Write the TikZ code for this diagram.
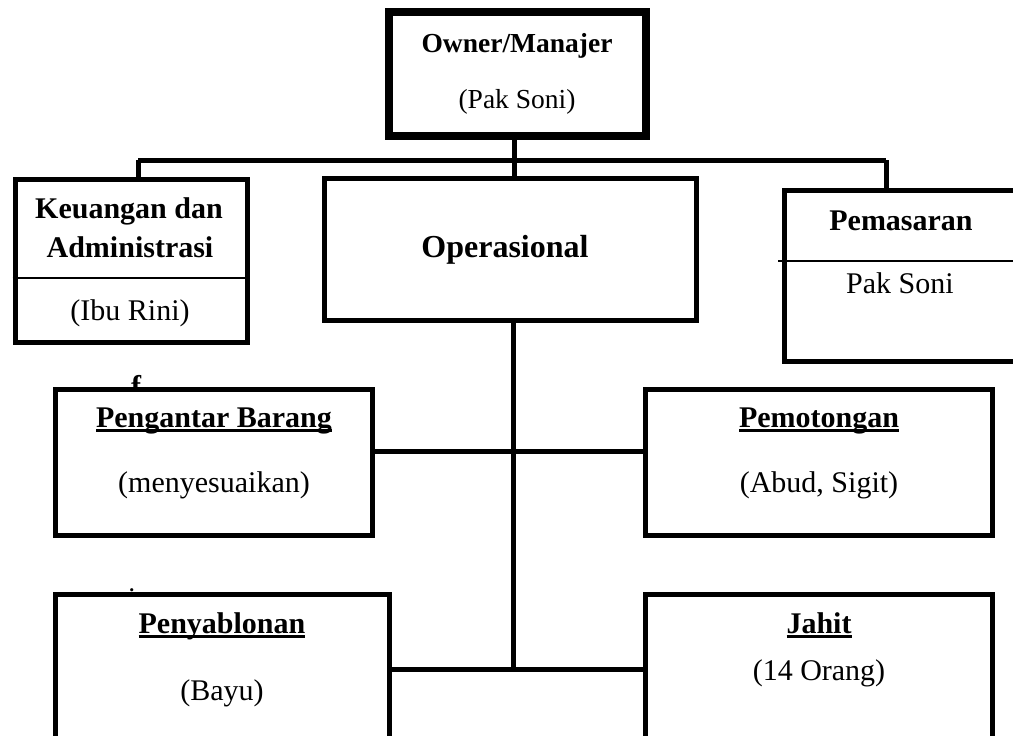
\documentclass[tikz,border=0pt]{standalone}
\usepackage{fontspec}
\setmainfont{Liberation Serif}
\newcommand\ulx[1]{\setbox0\hbox{#1}\dp0=0pt\leavevmode\vtop{\box0\kern1.8pt\hrule height 3.2pt}}
\tikzset{
  box/.style={draw, line width=5pt, fill=white, rectangle, inner sep=0pt},
  conn/.style={line width=5pt},
  thinline/.style={line width=1.5pt},
  ttl/.style={font=\bfseries\fontsize{30}{36}\selectfont, anchor=base, inner sep=0pt},
  txt/.style={font=\fontsize{30}{36}\selectfont, anchor=base, inner sep=0pt},
}
\begin{document}
\begin{tikzpicture}[x=1pt,y=-1pt]
\useasboundingbox (0,0) rectangle (1013,736);
\clip (0,0) rectangle (1013,736);
% stray letters partly hidden behind boxes
\node[ttl] (strayf) at (136,396) {f};
\node[txt] (strayi) at (132,608) {i};
% boxes
\node[box, line width=8pt, minimum width=257pt, minimum height=124pt] (owner) at (517.5,74) {};
\node[box, minimum width=232pt, minimum height=163pt] (keu) at (131,260.5) {};
\node[box, minimum width=372pt, minimum height=142pt] (ops) at (510,249) {};
\node[box, minimum width=300pt, minimum height=171pt] (pem) at (934,275.5) {};
\node[box, minimum width=317pt, minimum height=146pt] (peng) at (213.5,462) {};
\node[box, minimum width=347pt, minimum height=146pt] (potong) at (818.5,462) {};
\node[box, minimum width=334pt, minimum height=200pt] (sablon) at (222,694) {};
\node[box, minimum width=347pt, minimum height=200pt] (jahit) at (818.5,694) {};
% dividers
\draw[thinline] (keu.west |- 0,278) -- (249,278);
\draw[thinline] (778,261) -- (pem.east |- 0,261);
% connectors
\coordinate (busL) at (138,160);
\coordinate (busR) at (886,160);
\coordinate (busM) at (514,160);
\coordinate (midA) at (513,451);
\coordinate (stem) at (513,669);
\draw[conn] (owner.south -| busM) -- (busM);
\draw[conn] (busL) -- (busR);
\draw[conn] (busL) -- (keu.north -| busL);
\draw[conn] (busR) -- (pem.north -| busR);
\draw[conn] (busM) -- (ops.north -| busM);
\draw[conn] (ops.south -| stem) -- (stem);
\draw[conn] (peng.east |- midA) -- (potong.west |- midA);
\draw[conn] (sablon.east |- stem) -- (jahit.west |- stem);
% texts
\node[ttl, font=\bfseries\fontsize{27.5}{33}\selectfont] (t1) at (517,52) {Owner/Manajer};
\node[txt, font=\fontsize{27.5}{33}\selectfont] (t2) at (517,108) {(Pak Soni)};
\node[ttl] (t3) at (129,218) {Keuangan dan};
\node[ttl] (t4) at (130,257) {Administrasi};
\node[txt] (t5) at (130,320) {(Ibu Rini)};
\node[ttl, font=\bfseries\fontsize{32}{38}\selectfont] (t6) at (505,257) {Operasional};
\node[ttl] (t7) at (901,230) {Pemasaran};
\node[txt] (t8) at (900,293) {Pak Soni};
\node[ttl] (t9) at (214,427) {\ulx{Pengantar Barang}};
\node[txt] (t10) at (214,492) {(menyesuaikan)};
\node[ttl] (t11) at (819,427) {\ulx{Pemotongan}};
\node[txt] (t12) at (819,492) {(Abud, Sigit)};
\node[ttl] (t13) at (222,633) {\ulx{Penyablonan}};
\node[txt] (t14) at (222,700) {(Bayu)};
\node[ttl] (t15) at (819,633) {\ulx{Jahit}};
\node[txt] (t16) at (819,680) {(14 Orang)};
\end{tikzpicture}
\end{document}
